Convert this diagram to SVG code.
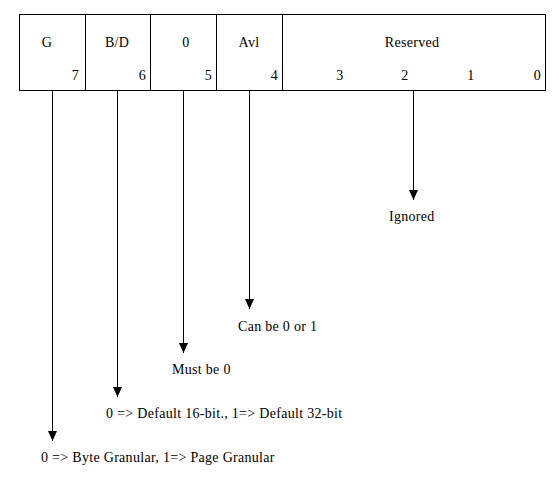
<svg xmlns="http://www.w3.org/2000/svg" width="559" height="478" viewBox="0 0 559 478">
<defs>
<style>
text{font-family:"Liberation Serif","DejaVu Serif","Times New Roman",serif;font-size:14px;letter-spacing:0.3px;fill:#000}
.c{text-anchor:middle}
.e{text-anchor:end}
.ln{stroke:#000;stroke-width:1;fill:none}
</style>
<marker id="ah" markerWidth="10" markerHeight="9" refX="10" refY="4.5" orient="auto" markerUnits="userSpaceOnUse" viewBox="0 0 10 9">
<path d="M0,0 L10,4.5 L0,9 Z" fill="#000"/>
</marker>
</defs>
<rect width="559" height="478" fill="#fff"/>
<g id="register">
<rect class="ln" x="19.5" y="14.5" width="526" height="76"/>
<line class="ln" x1="85.5" y1="14.5" x2="85.5" y2="90.5"/>
<line class="ln" x1="150.5" y1="14.5" x2="150.5" y2="90.5"/>
<line class="ln" x1="216.5" y1="14.5" x2="216.5" y2="90.5"/>
<line class="ln" x1="282.5" y1="14.5" x2="282.5" y2="90.5"/>
</g>
<g id="field-G"><text class="c" x="47" y="47">G</text><text class="e" x="79" y="80">7</text></g>
<g id="field-BD"><text class="c" x="117" y="47">B/D</text><text class="e" x="146" y="80">6</text></g>
<g id="field-0"><text class="c" x="186" y="47">0</text><text class="e" x="212" y="80">5</text></g>
<g id="field-Avl"><text class="c" x="249" y="47">Avl</text><text class="e" x="278" y="80">4</text></g>
<g id="field-Reserved"><text class="c" x="412" y="47">Reserved</text>
<text class="c" x="340" y="80">3</text><text class="c" x="405" y="80">2</text><text class="c" x="471" y="80">1</text><text class="e" x="541" y="80">0</text></g>
<g id="connectors">
<line class="ln" x1="52.5" y1="91" x2="52.5" y2="441" marker-end="url(#ah)"/>
<line class="ln" x1="117.5" y1="91" x2="117.5" y2="397" marker-end="url(#ah)"/>
<line class="ln" x1="183.5" y1="91" x2="183.5" y2="353" marker-end="url(#ah)"/>
<line class="ln" x1="249.5" y1="91" x2="249.5" y2="309" marker-end="url(#ah)"/>
<line class="ln" x1="413.5" y1="91" x2="413.5" y2="200" marker-end="url(#ah)"/>
</g>
<g id="label-ignored"><text x="389" y="221">Ignored</text></g>
<g id="label-avl"><text x="238" y="331">Can be 0 or 1</text></g>
<g id="label-0"><text x="172" y="374">Must be 0</text></g>
<g id="label-bd"><text x="106" y="418">0 =&gt; Default 16-bit., 1=&gt; Default 32-bit</text></g>
<g id="label-g"><text x="41" y="462">0 =&gt; Byte Granular, 1=&gt; Page Granular</text></g>
</svg>
